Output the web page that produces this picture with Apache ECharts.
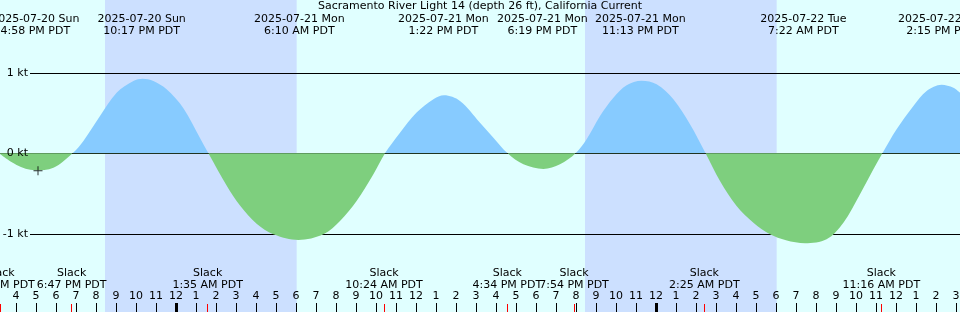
<!DOCTYPE html>
<html>
<head>
<meta charset="utf-8">
<script src="https://cdn.jsdelivr.net/npm/echarts@6/dist/echarts.min.js"></script>
<style>
  html, body { margin: 0; padding: 0; background: #e0ffff; }
  #chart-container { width: 960px; height: 312px; }
</style>
</head>
<body>
<div id="chart-container"></div>
<script>
// times are local PDT, curve hours count from 2025-07-21 00:00
const titleText = "Sacramento River Light 14 (depth 26 ft), California Current";
const viewStart = "2025-07-20 15:12";
const viewEnd = "2025-07-22 15:12";

const curveHours = [-8.8, -7.97, -7.05, -6.13, -5.17, -4.63, -3.8, -2.97, -2.13, -1.67, -1.13, -0.47,
  0.37, 1.2, 1.62, 2.53, 3.2, 4.03, 4.87, 6.12, 7.37, 8.2, 9.03, 9.87, 10.45, 11.2, 12.03, 12.87,
  13.4, 14.2, 15.2, 15.87, 16.58, 17.37, 18.37, 19.2, 19.98, 20.53, 21.2, 21.87, 22.53, 23.28,
  24.03, 24.87, 25.7, 26.48, 27.2, 28.03, 28.87, 29.7, 30.5, 31.45, 32.53, 33.37, 34.2, 34.87,
  35.32, 36.03, 36.87, 37.53, 38.28, 38.87, 39.2];
const curveKnots = [-0.01, -0.145, -0.211, -0.18, 0, 0.153, 0.463, 0.753, 0.898, 0.927, 0.898, 0.795,
  0.56, 0.19, 0, -0.4, -0.65, -0.875, -1.006, -1.077, -1.006, -0.841, -0.593, -0.261, 0, 0.256, 0.505, 0.671,
  0.72, 0.65, 0.38, 0.194, 0, -0.137, -0.195, -0.137, 0, 0.174, 0.463, 0.691, 0.845, 0.902,
  0.857, 0.671, 0.36, 0, -0.344, -0.655, -0.862, -1.006, -1.08, -1.118, -1.068, -0.862, -0.509, -0.199,
  0, 0.298, 0.588, 0.774, 0.852, 0.815, 0.753];

const extremaTimes = ["2025-07-20 16:58", "2025-07-20 22:17", "2025-07-21 06:10", "2025-07-21 13:22",
  "2025-07-21 18:19", "2025-07-21 23:13", "2025-07-22 07:22", "2025-07-22 14:15"];
const slackTimes = ["2025-07-20 15:12", "2025-07-20 18:47", "2025-07-21 01:35", "2025-07-21 10:24",
  "2025-07-21 16:34", "2025-07-21 19:54", "2025-07-22 02:25", "2025-07-22 11:16"];
const midnights = ["2025-07-21 00:00", "2025-07-22 00:00"];
const sunsets = ["2025-07-20 20:27", "2025-07-21 20:27"];
const sunrises = ["2025-07-21 06:02", "2025-07-22 06:02"];
const levels = [-1, 0, 1];
const nowMark = ["2025-07-20 17:06", -0.216];

const dayColor = "#e0ffff";
const nightColor = "#cce0ff";
const floodColor = "#87cbff";
const ebbColor = "#7ecf7e";
const font = "DejaVu Sans";

const base = Date.UTC(2025, 6, 21, 0, 0);
const parts = (s) => s.split(/[- :]/).map(Number);
const hourOf = (s) => {
  const p = parts(s);
  return (Date.UTC(p[0], p[1] - 1, p[2], p[3], p[4]) - base) / 3600000;
};
const timeLabel = (s) => {
  const p = parts(s);
  const h = p[3] % 12 || 12;
  return h + ":" + String(p[4]).padStart(2, "0") + " " + (p[3] < 12 ? "AM" : "PM") + " PDT";
};
const dateLabel = (s) => {
  const p = parts(s);
  const wd = ["Sun", "Mon", "Tue", "Wed", "Thu", "Fri", "Sat"][new Date(Date.UTC(p[0], p[1] - 1, p[2])).getUTCDay()];
  return s.slice(0, 10) + " " + wd;
};
const lookup = (times, fmt) => (v) => {
  const i = times.findIndex((t) => Math.abs(hourOf(t) - v) < 1e-6);
  return i < 0 ? "" : fmt(times[i]);
};

const xMin = hourOf(viewStart);
const xMax = hourOf(viewEnd);
const hourTicks = [];
for (let h = Math.ceil(xMin); h <= Math.floor(xMax); h++) hourTicks.push(h);
const nightEdges = [xMin];
sunsets.forEach((s, i) => { nightEdges.push(hourOf(s), hourOf(sunrises[i])); });
nightEdges.push(xMax);

const yMin = -1.972;
const yMax = 1.904;

var dom = document.getElementById("chart-container");
var myChart = echarts.init(dom, null, { renderer: "canvas" });

const hiddenLine = { show: false, onZero: false };
const baseX = { type: "value", min: xMin, max: xMax, position: "bottom", axisLine: hiddenLine, splitLine: { show: false } };
const baseY = { type: "value", min: yMin, max: yMax, position: "left", axisLine: hiddenLine };

var option = {
  animation: false,
  backgroundColor: dayColor,
  textStyle: { fontFamily: font, fontSize: 11, color: "#000" },
  title: {
    text: titleText, left: "center", top: 0, padding: [1, 0, 0, 0],
    textStyle: { fontFamily: font, fontSize: 11, fontWeight: "normal", color: "#000" }
  },
  grid: { left: 0, right: 0, top: 0, bottom: 0, show: false, containLabel: false, outerBoundsMode: "none" },
  xAxis: [
    // hour numbers
    Object.assign({}, baseX, {
      z: 3,
      axisTick: { inside: true, length: 9, customValues: hourTicks, lineStyle: { color: "#000", width: 1 } },
      axisLabel: {
        inside: true, customValues: hourTicks, margin: 16, verticalAlign: "middle",
        fontFamily: font, fontSize: 11, color: "#000",
        formatter: (v) => { const h = ((v % 24) + 24) % 24; return String(h % 12 || 12); }
      }
    }),
    // midnight
    Object.assign({}, baseX, {
      z: 3,
      axisTick: { inside: true, length: 9, customValues: midnights.map(hourOf), lineStyle: { color: "#000", width: 3 } },
      axisLabel: { show: false }
    }),
    // slack
    Object.assign({}, baseX, {
      z: 3,
      axisTick: { inside: true, length: 8, customValues: slackTimes.map(hourOf), lineStyle: { color: "#ff0000", width: 1 } },
      axisLabel: {
        inside: true, customValues: slackTimes.map(hourOf), margin: 33, verticalAlign: "middle",
        lineHeight: 12, fontFamily: font, fontSize: 11, color: "#000",
        formatter: lookup(slackTimes, (t) => "Slack\n" + timeLabel(t))
      }
    }),
    // max flood / ebb
    Object.assign({}, baseX, {
      z: 3, position: "top",
      axisTick: { show: false },
      axisLabel: {
        inside: true, customValues: extremaTimes.map(hourOf), margin: 25, verticalAlign: "middle",
        lineHeight: 12, fontFamily: font, fontSize: 11, color: "#000",
        formatter: lookup(extremaTimes, (t) => dateLabel(t) + "\n" + timeLabel(t))
      }
    }),
    // night shading
    Object.assign({}, baseX, {
      z: 0,
      axisTick: { show: false, customValues: nightEdges },
      axisLabel: { show: false },
      splitArea: { show: true, areaStyle: { color: ["rgba(0,0,0,0)", nightColor] } }
    })
  ],
  yAxis: [
    Object.assign({}, baseY, {
      z: 1,
      axisTick: { show: false, customValues: levels },
      axisLabel: { show: false },
      splitLine: { show: true, lineStyle: { color: "#000", width: 1 } }
    }),
    Object.assign({}, baseY, {
      z: 10,
      axisTick: { show: false, customValues: levels },
      splitLine: { show: false },
      axisLabel: {
        inside: true, customValues: levels, margin: 30, align: "right",
        fontFamily: font, fontSize: 11, color: "#000",
        formatter: (v) => (v === 0 ? "{z|0 kt}" : "{m|" + v + " kt}"),
        rich: {
          m: { backgroundColor: dayColor, padding: [2, 2, 1, 10] },
          z: { padding: [0, 2, 0, 0] }
        }
      }
    })
  ],
  series: [
    {
      name: "Current",
      type: "line",
      xAxisIndex: 0,
      yAxisIndex: 0,
      z: 2,
      smooth: 0.33,
      symbol: "none",
      silent: true,
      lineStyle: { width: 0 },
      areaStyle: { color: floodColor, opacity: 1 },
      data: curveHours.map((h, i) => [h, curveKnots[i]])
    },
    {
      name: "Now",
      type: "scatter",
      xAxisIndex: 0,
      yAxisIndex: 0,
      z: 4,
      silent: true,
      symbol: "path://M4,0h1v4h4v1h-4v4h-1v-4h-4v-1h4z",
      symbolSize: 9,
      itemStyle: { color: "#000" },
      data: [[hourOf(nowMark[0]), nowMark[1]]]
    }
  ]
};

myChart.setOption(option);

// flood above the zero line, ebb below it
const zeroY = myChart.convertToPixel({ yAxisIndex: 0 }, 0);
const h = myChart.getHeight();
myChart.setOption({
  series: [{
    name: "Current",
    areaStyle: {
      color: {
        type: "linear", x: 0, y: 0, x2: 0, y2: h, global: true,
        colorStops: [
          { offset: 0, color: floodColor },
          { offset: zeroY / h, color: floodColor },
          { offset: zeroY / h, color: ebbColor },
          { offset: 1, color: ebbColor }
        ]
      }
    }
  }]
});

window.addEventListener("resize", myChart.resize);
</script>
</body>
</html>
